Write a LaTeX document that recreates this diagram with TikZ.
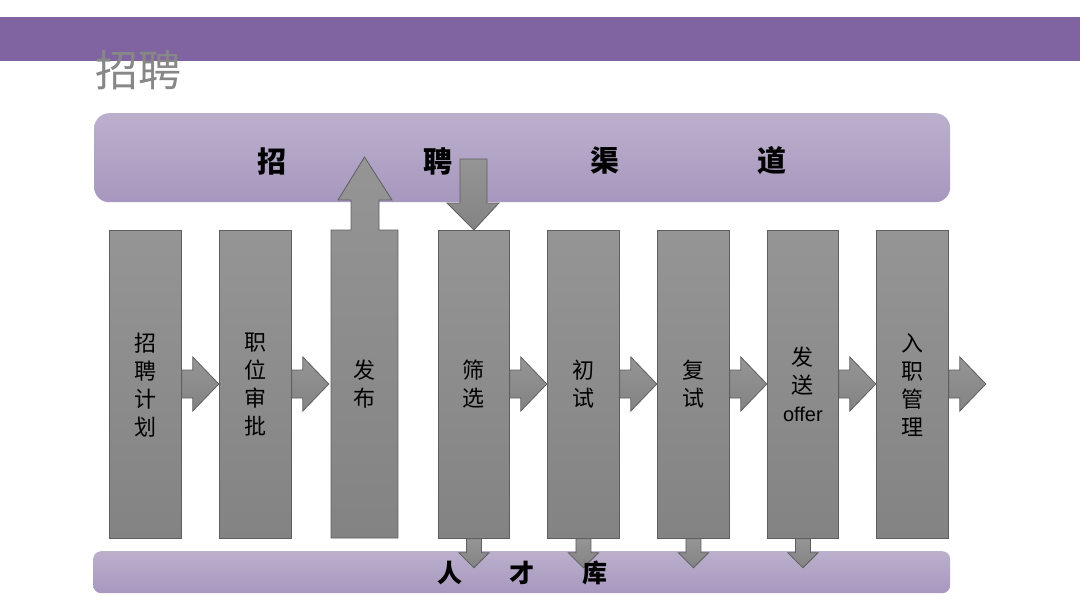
\documentclass[tikz,border=0pt]{standalone}
\usepackage{fontspec}
\setmainfont{Noto Sans CJK SC}
\newfontfamily\latinsans{Liberation Sans}
\usetikzlibrary{calc}
\definecolor{bandpurple}{HTML}{8064A2}
\definecolor{lavtop}{HTML}{BBB0CC}
\definecolor{lavbot}{HTML}{A797BE}
\definecolor{coltop}{HTML}{959595}
\definecolor{colbot}{HTML}{838383}
\definecolor{coledge}{HTML}{5E5E5E}
\definecolor{titlegray}{HTML}{878787}
\tikzset{
  colbox/.style={draw=coledge, line width=0.8pt, top color=coltop, bottom color=colbot, inner sep=0pt},
  blockarr/.style={draw=coledge, line width=0.8pt, top color=coltop, bottom color=colbot, line join=miter},
  lavband/.style={draw=none, top color=lavtop, bottom color=lavbot},
  coltext/.style={align=center, font=\fontsize{22}{28}\selectfont, text=black},
  chantext/.style={font=\bfseries\fontsize{29}{29}\selectfont, text=black},
  pooltext/.style={font=\bfseries\fontsize{25}{25}\selectfont, text=black},
}
\begin{document}
\begin{tikzpicture}[x=1pt,y=-1pt]
\useasboundingbox (0,0) rectangle (1080,608);
% top band
\fill[bandpurple] (0,17) rectangle (1080,61);
\node[anchor=west, inner sep=0pt, font=\fontsize{43}{43}\selectfont, text=titlegray] (title) at (95,70) {招聘};

% channel box
\node[lavband, rounded corners=15pt, minimum width=856pt, minimum height=89pt, anchor=north west] (chan) at (94,113) {};
\node[chantext] (ch1) at (272,161) {招};
\node[chantext] (ch2) at (438,161) {聘};
\node[chantext] (ch3) at (605,161) {渠};
\node[chantext] (ch4) at (772,161) {道};

% talent pool band
\node[lavband, rounded corners=8pt, minimum width=857pt, minimum height=42pt, anchor=north west] (pool) at (93,551) {};

% columns
\node[colbox, minimum width=72pt, minimum height=308pt, anchor=north west] (c1) at (109,230) {};
\node[colbox, minimum width=72pt, minimum height=308pt, anchor=north west] (c2) at (219,230) {};
\node[colbox, minimum width=71pt, minimum height=308pt, anchor=north west] (c4) at (438,230) {};
\node[colbox, minimum width=72pt, minimum height=308pt, anchor=north west] (c5) at (547,230) {};
\node[colbox, minimum width=72pt, minimum height=308pt, anchor=north west] (c6) at (657,230) {};
\node[colbox, minimum width=71pt, minimum height=308pt, anchor=north west] (c7) at (767,230) {};
\node[colbox, minimum width=72pt, minimum height=308pt, anchor=north west] (c8) at (876,230) {};

% column 3 with upward arrow into the channel box
\path[blockarr] (331,538) -- (331,230) -- (351,230) -- (351,200) -- (338,200) -- (364.5,157)
  -- (392,200) -- (379,200) -- (379,230) -- (398,230) -- (398,538) -- cycle;
\node[inner sep=0pt, minimum width=67pt, minimum height=308pt, anchor=north west] (c3) at (331,230) {};

% downward arrow from channel box to column 4
\path[blockarr] (460,159) -- (487,159) -- (487,203) -- (499,203) -- (c4.north) -- (447,203) -- (460,203) -- cycle;

% right arrows between columns
\foreach \c in {c1, c2, c4, c5, c6, c7, c8}{
  \path[blockarr] (\c.east |- 0,370) -- ++(11,0) -- ++(0,-13) -- ++(26,27) -- ++(-26,27) -- ++(0,-13) -- ++(-11,0) -- cycle;
}

% downward arrows to talent pool
\foreach \c in {c4,c5,c6,c7}{
  \path[blockarr] ($(\c.south)+(-7.5,0)$) -- ++(0,14) -- ++(-7.5,0) -- ++(15,15) -- ++(15,-15) -- ++(-7.5,0) -- ++(0,-14) -- cycle;
}

% pool text
\node[pooltext] (p1) at (450,573) {人};
\node[pooltext] (p2) at (522,573) {才};
\node[pooltext] (p3) at (595,573) {库};

% column texts
\node[coltext] (t1) at (c1 |- 0,385) {招\\聘\\计\\划};
\node[coltext] (t2) at (c2 |- 0,385) {职\\位\\审\\批};
\node[coltext] (t3) at (c3 |- 0,384) {发\\布};
\node[coltext] (t4) at (c4 |- 0,384) {筛\\选};
\node[coltext] (t5) at (c5 |- 0,384) {初\\试};
\node[coltext] (t6) at (c6 |- 0,384) {复\\试};
\node[coltext] (t7) at (c7 |- 0,384) {发\\送\\{\latinsans\fontsize{20}{28}\selectfont offer}};
\node[coltext] (t8) at (c8 |- 0,385) {入\\职\\管\\理};
\end{tikzpicture}
\end{document}
